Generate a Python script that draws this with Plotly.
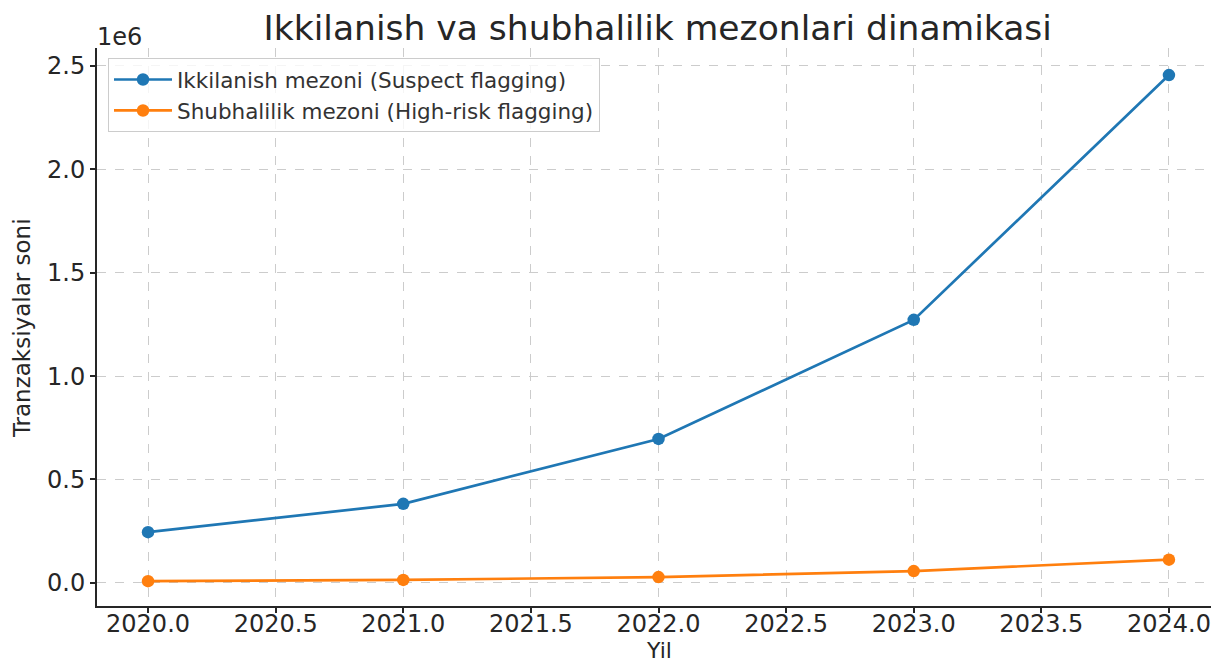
import plotly.graph_objects as go

years = [2020, 2021, 2022, 2023, 2024]
suspect = [245000, 382000, 696000, 1272000, 2456000]
high_risk = [8000, 14000, 28000, 57000, 112000]
ytick_vals = [0, 500000, 1000000, 1500000, 2000000, 2500000]
ytick_text = ["0.0", "0.5", "1.0", "1.5", "2.0", "2.5"]
xtick_vals = [2020.0, 2020.5, 2021.0, 2021.5, 2022.0, 2022.5, 2023.0, 2023.5, 2024.0]
xtick_text = ["2020.0", "2020.5", "2021.0", "2021.5", "2022.0", "2022.5", "2023.0", "2023.5", "2024.0"]

font = "DejaVu Sans"
fig = go.Figure()
fig.add_trace(go.Scatter(x=years, y=suspect, mode="lines+markers",
                         name="Ikkilanish mezoni (Suspect flagging)",
                         line=dict(color="#1f77b4", width=2.7),
                         marker=dict(color="#1f77b4", size=12.5)))
fig.add_trace(go.Scatter(x=years, y=high_risk, mode="lines+markers",
                         name="Shubhalilik mezoni (High-risk flagging)",
                         line=dict(color="#ff7f0e", width=2.7),
                         marker=dict(color="#ff7f0e", size=12.5)))

fig.update_layout(
    width=1219, height=661,
    margin=dict(l=89, r=7, t=40, b=63),
    paper_bgcolor="white", plot_bgcolor="white",
    font=dict(family=font, color="#262626"),
    title=dict(text="Ikkilanish va shubhalilik mezonlari dinamikasi",
               x=0.533, xanchor="center", y=0.97, yanchor="middle",
               font=dict(size=34.5, family=font, color="#262626")),
    legend=dict(x=0.0098, y=0.982, xanchor="left", yanchor="top",
                bgcolor="rgba(255,255,255,0.8)", bordercolor="#cccccc", borderwidth=1,
                font=dict(size=21.5, family=font, color="#333333"),
                itemwidth=58, tracegroupgap=0),
    showlegend=True,
)
fig.update_xaxes(range=[2019.8, 2024.2], tickvals=xtick_vals, ticktext=xtick_text,
                 automargin=False,
                 showgrid=True, gridcolor="#cccccc", griddash="dash", gridwidth=1,
                 showline=True, linecolor="#262626", linewidth=2,
                 ticks="outside", ticklen=5, tickwidth=1.5, tickcolor="#262626",
                 tickfont=dict(size=24, family=font, color="#262626"),
                 ticklabelstandoff=-10,
                 zeroline=False)
fig.update_yaxes(range=[-112000, 2587000], tickvals=ytick_vals, ticktext=ytick_text,
                 automargin=False,
                 showgrid=True, gridcolor="#cccccc", griddash="dash", gridwidth=1,
                 showline=True, linecolor="#262626", linewidth=2,
                 ticks="outside", ticklen=5, tickwidth=1.5, tickcolor="#262626",
                 tickfont=dict(size=24, family=font, color="#262626"),
                 zeroline=False)
# axis titles placed as annotations to match the reference positions
fig.add_annotation(text="Yil", xref="paper", yref="paper", x=0.5, y=-0.0789,
                   xanchor="center", yanchor="middle", showarrow=False,
                   font=dict(size=22, family=font, color="#262626"))
fig.add_annotation(text="Tranzaksiyalar soni", xref="paper", yref="paper", x=-0.0668, y=0.498,
                   xanchor="center", yanchor="middle", textangle=-90, showarrow=False,
                   font=dict(size=23, family=font, color="#262626"))
fig.add_annotation(text="1e6", xref="paper", yref="paper", x=-0.002, y=1.0, xanchor="left",
                   yanchor="bottom", yshift=-5, showarrow=False,
                   font=dict(size=24, family=font, color="#262626"))
fig.write_html("out.html")
